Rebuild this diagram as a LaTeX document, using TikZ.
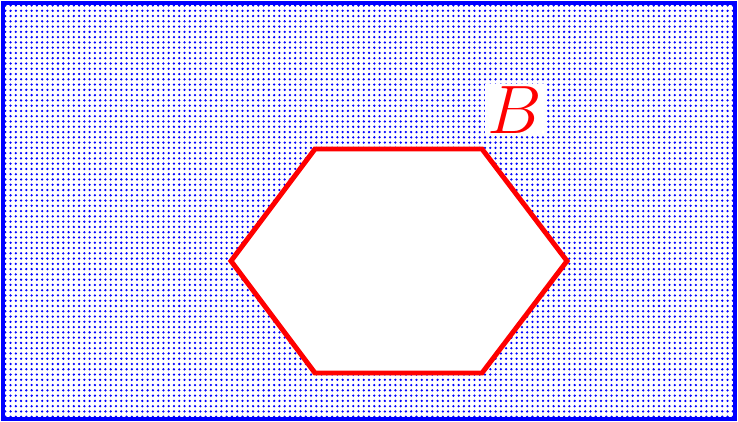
\documentclass[tikz,border=0pt]{standalone}
\usepackage{fix-cm}
\usetikzlibrary{patterns.meta}
\tikzset{
    region/.style={draw=blue,line width=2.3pt,pattern={Dots[distance=3pt,radius=0.72pt]},pattern color=blue},
    hole/.style={draw=red,line width=2.8pt,fill=white},
    setlabel/.style={fill=white,text=red,inner sep=1.5pt,font=\fontsize{39}{41}\selectfont}
}
\begin{document}
\begin{tikzpicture}
    \useasboundingbox (0,0) rectangle (14.76,8.44);
    % the shaded region with the hexagonal hole
    \draw[region] (0.06,0.06) rectangle (14.70,8.38);
    \draw[hole] (6.30,5.46) -- (9.64,5.46) -- (11.34,3.22) -- (9.64,0.98)
        -- (6.30,0.98) -- (4.62,3.22) -- cycle;
    \node[setlabel] (lblB) at (10.30,6.24) {$B$};
\end{tikzpicture}
\end{document}
